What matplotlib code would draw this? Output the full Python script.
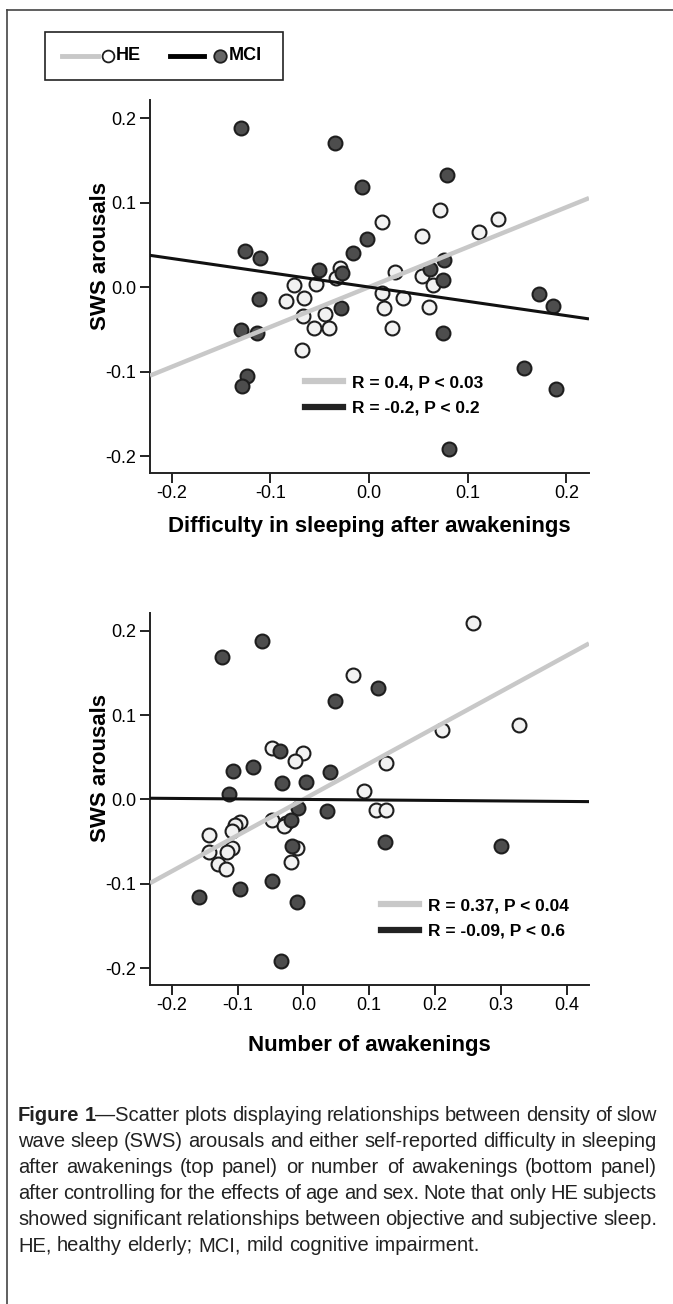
import matplotlib
matplotlib.use("Agg")
import matplotlib.pyplot as plt
from matplotlib.lines import Line2D
from matplotlib.patches import Rectangle
import numpy as np

plt.rcParams['font.family'] = ['Liberation Sans Narrow', 'Liberation Sans', 'DejaVu Sans']

W_PX = 673
H_PX = 1304

# Panel 1: difficulty in sleeping after awakenings
top_he_x = [-0.076, -0.084, -0.066, -0.054, -0.067, -0.056, -0.045, -0.041, -0.068, -0.029,
            -0.033, 0.013, 0.026, 0.013, 0.034, 0.015, 0.023, 0.054, 0.072, 0.054,
            0.065, 0.061, 0.111, 0.131]
top_he_y = [0.002, -0.017, -0.013, 0.004, -0.034, -0.048, -0.032, -0.049, -0.075, 0.022,
            0.011, 0.077, 0.018, -0.007, -0.013, -0.025, -0.048, 0.060, 0.091, 0.013,
            0.002, -0.024, 0.065, 0.080]
top_mci_x = [-0.130, -0.034, -0.007, 0.079, -0.126, -0.110, -0.002, -0.016, -0.051, -0.027,
             0.062, 0.076, 0.075, -0.112, -0.028, 0.172, 0.187, -0.130, -0.114, 0.075,
             -0.124, -0.129, 0.157, 0.190, 0.081]
top_mci_y = [0.188, 0.170, 0.118, 0.133, 0.043, 0.034, 0.057, 0.040, 0.020, 0.017,
             0.021, 0.032, 0.008, -0.014, -0.025, -0.008, -0.022, -0.051, -0.054, -0.054,
             -0.105, -0.117, -0.096, -0.121, -0.192]
top_he_fit = [0.0, 0.472]     # intercept, slope
top_mci_fit = [0.0, -0.169]
top_xticks = [-0.2, -0.1, 0.0, 0.1, 0.2]
top_stats = ["R = 0.4, P < 0.03", "R = -0.2, P < 0.2"]

# Panel 2: number of awakenings
bot_he_x = [0.258, 0.076, -0.047, 0.000, -0.012, 0.125, 0.210, 0.328, 0.092, 0.111,
            0.125, -0.143, -0.097, -0.104, -0.108, -0.108, -0.116, -0.143, -0.130, -0.117,
            -0.047, -0.026, -0.030, -0.010, -0.019]
bot_he_y = [0.209, 0.147, 0.061, 0.055, 0.046, 0.043, 0.082, 0.088, 0.010, -0.012,
            -0.012, -0.042, -0.027, -0.030, -0.037, -0.058, -0.062, -0.062, -0.076, -0.083,
            -0.024, -0.028, -0.031, -0.057, -0.074]
bot_mci_x = [-0.124, -0.063, 0.113, 0.048, -0.107, -0.077, -0.036, 0.040, -0.113, -0.033,
             0.004, -0.008, -0.019, 0.036, -0.018, 0.124, 0.301, -0.048, -0.097, -0.159,
             -0.010, -0.034]
bot_mci_y = [0.169, 0.188, 0.132, 0.117, 0.034, 0.039, 0.057, 0.032, 0.007, 0.019,
             0.021, -0.010, -0.024, -0.014, -0.055, -0.051, -0.055, -0.097, -0.106, -0.116,
             -0.122, -0.192]
bot_he_fit = [0.0, 0.426]
bot_mci_fit = [0.0, -0.006]
bot_xticks = [-0.2, -0.1, 0.0, 0.1, 0.2, 0.3, 0.4]
bot_stats = ["R = 0.37, P < 0.04", "R = -0.09, P < 0.6"]

yticks = [-0.2, -0.1, 0.0, 0.1, 0.2]

caption_lines = [
    "Figure 1\u2014Scatter plots displaying relationships between density of slow",
    "wave sleep (SWS) arousals and either self-reported difficulty in sleeping",
    "after awakenings (top panel) or number of awakenings (bottom panel)",
    "after controlling for the effects of age and sex. Note that only HE subjects",
    "showed significant relationships between objective and subjective sleep.",
    "HE, healthy elderly; MCI, mild cognitive impairment.",
]
caption_bold = "Figure 1"

HE_FACE = "#f2f2f2"
MCI_FACE = "#4d4d4d"
EDGE = "#1e1e1e"
HE_LINE = "#c8c8c8"
MCI_LINE = "#111111"


def fx(px):
    return px / W_PX


def fy(py):
    return 1 - py / H_PX


def make_panel(fig, rect_px, xlim, ylim, xticks, he_x, he_y, mci_x, mci_y,
               he_fit, mci_fit, stats, stats_px):
    left, top, right, bottom = rect_px
    ax = fig.add_axes([fx(left), fy(bottom), fx(right - left), (bottom - top) / H_PX])
    xs = np.array(xlim)
    ax.plot(xs, he_fit[0] + he_fit[1] * xs, color=HE_LINE, lw=3.2, zorder=3,
            solid_capstyle="butt")
    ax.plot(xs, mci_fit[0] + mci_fit[1] * xs, color=MCI_LINE, lw=2.2, zorder=3,
            solid_capstyle="butt")
    ax.scatter(he_x, he_y, s=100, facecolor=HE_FACE, edgecolor=EDGE, linewidths=1.5, zorder=2)
    ax.scatter(mci_x, mci_y, s=100, facecolor=MCI_FACE, edgecolor=EDGE, linewidths=1.5, zorder=2)
    ax.set_xlim(xlim)
    ax.set_ylim(ylim)
    ax.set_xticks(xticks)
    ax.set_xticklabels(["%.1f" % v for v in xticks])
    ax.set_yticks(yticks)
    ax.set_yticklabels(["%.1f" % v for v in yticks])
    ax.tick_params(direction="out", length=7, width=1.4, labelsize=13, color="#222222")
    ax.tick_params(axis="x", pad=1.5)
    ax.tick_params(axis="y", pad=3)
    for s in ["top", "right"]:
        ax.spines[s].set_visible(False)
    for s in ["left", "bottom"]:
        ax.spines[s].set_linewidth(1.4)
        ax.spines[s].set_color("#222222")

    handles = [Line2D([], [], color=HE_LINE, lw=4.5), Line2D([], [], color="#222222", lw=4.5)]
    ax.legend(handles, stats, loc="upper left", bbox_to_anchor=(fx(stats_px[0]), fy(stats_px[1])),
              bbox_transform=fig.transFigure, frameon=False, borderpad=0, borderaxespad=0,
              handlelength=2.2, handletextpad=0.5, labelspacing=0.6,
              prop={"weight": "bold", "size": 12.5})
    return ax


fig = plt.figure(figsize=(W_PX / 100, H_PX / 100), dpi=100)

make_panel(fig, (150, 100, 589, 473), (-0.222, 0.223), (-0.220, 0.2213), top_xticks,
           top_he_x, top_he_y, top_mci_x, top_mci_y, top_he_fit, top_mci_fit,
           top_stats, (305, 375))
make_panel(fig, (150, 613, 589, 985), (-0.233, 0.434), (-0.220, 0.221), bot_xticks,
           bot_he_x, bot_he_y, bot_mci_x, bot_mci_y, bot_he_fit, bot_mci_fit,
           bot_stats, (381, 898))

# axis titles
lab = dict(fontsize=16, weight="bold", ha="center", va="center")
fig.text(fx(369), fy(527), "Difficulty in sleeping after awakenings", **lab)
fig.text(fx(369), fy(1045), "Number of awakenings", **lab)
fig.text(fx(100), fy(256), "SWS arousals", rotation=90, **lab)
fig.text(fx(100), fy(768), "SWS arousals", rotation=90, **lab)

# outer frame (clipped on the right and bottom)
fig.add_artist(Line2D([fx(7), 1.0], [fy(9.5), fy(9.5)], color="#444444", lw=1.2))
fig.add_artist(Line2D([fx(7), fx(7)], [fy(9.5), 0.0], color="#444444", lw=1.2))

# group legend box
fig.add_artist(Rectangle((fx(45), fy(80)), fx(238), 48 / H_PX, fill=False,
                         edgecolor="#222222", lw=1.2))
fig.add_artist(Line2D([fx(62), fx(98)], [fy(56), fy(56)], color=HE_LINE, lw=3.5))
fig.add_artist(Line2D([fx(108)], [fy(56)], marker="o", ms=8.5, mfc="white",
                      mec=EDGE, mew=1.3, ls="none"))
fig.text(fx(116), fy(56), "HE", fontsize=13, weight="bold", va="center")
fig.add_artist(Line2D([fx(170), fx(204)], [fy(56), fy(56)], color="black", lw=3.5))
fig.add_artist(Line2D([fx(220)], [fy(56)], marker="o", ms=9, mfc="#666666",
                      mec=EDGE, mew=1.3, ls="none"))
fig.text(fx(229), fy(56), "MCI", fontsize=13, weight="bold", va="center")


# caption, justified word by word
def line_words(line, n_bold):
    words = []
    pos = 0
    for w in line.split(" "):
        start, end = pos, pos + len(w)
        segs = []
        if start < n_bold:
            segs.append((w[:min(end, n_bold) - start], "bold"))
        if end > n_bold:
            segs.append((w[max(n_bold - start, 0):], "normal"))
        words.append(segs)
        pos = end + 1
    return words


renderer = fig.canvas.get_renderer()
cap_size = 14.5
x_left, x_right = 18, 657
y_first, dy = 1121, 26


def seg_width(text, weight):
    t = fig.text(0, 0, text, fontsize=cap_size, weight=weight)
    w = t.get_window_extent(renderer).width
    t.remove()
    return w


space_w = seg_width("a b", "normal") - seg_width("ab", "normal")
for i, line in enumerate(caption_lines):
    words = line_words(line, len(caption_bold) if i == 0 else 0)
    widths = [[seg_width(s, wt) for s, wt in word] for word in words]
    total = sum(sum(w) for w in widths)
    if i < len(caption_lines) - 1:
        gap = (x_right - x_left - total) / (len(words) - 1)
    else:
        gap = space_w
    x = x_left
    yb = y_first + i * dy
    for word, ws in zip(words, widths):
        for (s, wt), w in zip(word, ws):
            fig.text(fx(x), fy(yb), s, fontsize=cap_size, weight=wt, va="baseline",
                     color="#222222")
            x += w
        x += gap

fig.savefig("out.png", dpi=100)
